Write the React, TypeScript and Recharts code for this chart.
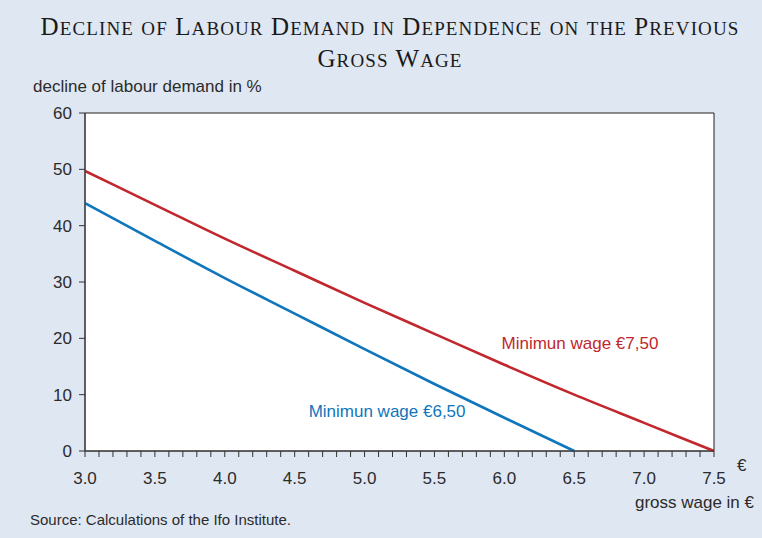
import React from 'react';
import { LineChart, Line, XAxis, YAxis, CartesianGrid, ReferenceArea, ReferenceDot } from 'recharts';

const wage750 = [
  { x: 3.0, y: 49.7 },
  { x: 3.5, y: 43.7 },
  { x: 4.0, y: 37.7 },
  { x: 4.5, y: 32.0 },
  { x: 5.0, y: 26.3 },
  { x: 5.5, y: 20.8 },
  { x: 6.0, y: 15.3 },
  { x: 6.5, y: 10.0 },
  { x: 7.0, y: 5.0 },
  { x: 7.5, y: 0 },
];

const wage650 = [
  { x: 3.0, y: 44.0 },
  { x: 3.5, y: 37.3 },
  { x: 4.0, y: 30.7 },
  { x: 4.5, y: 24.4 },
  { x: 5.0, y: 18.1 },
  { x: 5.5, y: 11.9 },
  { x: 6.0, y: 5.9 },
  { x: 6.5, y: 0 },
];

const xTicks = [
  3.0, 3.1, 3.2, 3.3, 3.4, 3.5, 3.6, 3.7, 3.8, 3.9,
  4.0, 4.1, 4.2, 4.3, 4.4, 4.5, 4.6, 4.7, 4.8, 4.9,
  5.0, 5.1, 5.2, 5.3, 5.4, 5.5, 5.6, 5.7, 5.8, 5.9,
  6.0, 6.1, 6.2, 6.3, 6.4, 6.5, 6.6, 6.7, 6.8, 6.9,
  7.0, 7.1, 7.2, 7.3, 7.4, 7.5,
];
const xLabelTicks = [3.0, 3.5, 4.0, 4.5, 5.0, 5.5, 6.0, 6.5, 7.0, 7.5];
const yTicks = [0, 10, 20, 30, 40, 50, 60];

const titleLines = ['Decline of Labour Demand in Dependence on the Previous', 'Gross Wage'];

const RED = '#c1272d';
const BLUE = '#0f75bc';
const TEXT = '#2b2b2b';
const BG = '#dfe7f2';
const SANS = '"Liberation Sans", Arial, sans-serif';

const fmtX = (v: number) =>
  xLabelTicks.some((t) => Math.abs(t - v) < 1e-6) ? v.toFixed(1) : '';

function SmallCaps({ text }: { text: string }) {
  const parts: React.ReactNode[] = [];
  for (let i = 0; i < text.length; i++) {
    const c = text[i];
    const isUpper = c !== c.toLowerCase();
    if (c === ' ') {
      parts.push(<span key={i}> </span>);
    } else if (isUpper) {
      parts.push(
        <span key={i} style={{ fontSize: 25 }}>
          {c}
        </span>
      );
    } else {
      parts.push(
        <span key={i} style={{ fontSize: 19, textTransform: 'uppercase' }}>
          {c}
        </span>
      );
    }
  }
  return <>{parts}</>;
}

export default function App() {
  return (
    <div
      style={{
        position: 'absolute',
        left: 0,
        top: 0,
        width: 762,
        height: 538,
        background: BG,
        fontFamily: SANS,
        color: TEXT,
        overflow: 'hidden',
      }}
    >
      <div
        style={{
          position: 'absolute',
          left: 0,
          width: 780,
          top: 12,
          textAlign: 'center',
          fontFamily: '"Liberation Serif", "Times New Roman", serif',
          fontSize: 25,
          lineHeight: '30px',
          letterSpacing: 1.1,
          color: '#1a1a1a',
          whiteSpace: 'nowrap',
        }}
      >
        <SmallCaps text={titleLines[0]} />
        <br />
        <SmallCaps text={titleLines[1]} />
      </div>
      <div style={{ position: 'absolute', left: 33, top: 77, fontSize: 17 }}>
        decline of labour demand in %
      </div>
      <div style={{ position: 'absolute', left: 737, top: 456, fontSize: 17 }}>€</div>
      <div style={{ position: 'absolute', right: 8, top: 493, fontSize: 17 }}>
        gross wage in €
      </div>
      <div style={{ position: 'absolute', left: 30, top: 511, fontSize: 15 }}>
        Source: Calculations of the Ifo Institute.
      </div>
      <div style={{ position: 'absolute', left: 0, top: 0 }}>
        <LineChart width={762} height={538} margin={{ top: 113, right: 48, bottom: 57, left: 0 }}>
          <CartesianGrid fill="#ffffff" horizontal={false} vertical={false} />
          <XAxis
            type="number"
            dataKey="x"
            domain={[3, 7.5]}
            ticks={xTicks}
            tickFormatter={fmtX}
            interval={0}
            height={30}
            tickSize={6}
            tickMargin={15}
            stroke="#333"
            tick={{ fill: TEXT, fontSize: 17, fontFamily: SANS }}
            allowDataOverflow
          />
          <YAxis
            type="number"
            domain={[0, 60]}
            ticks={yTicks}
            interval={0}
            width={85}
            tickSize={6}
            tickMargin={7}
            stroke="#333"
            tick={{ fill: TEXT, fontSize: 17, fontFamily: SANS }}
          />
          <ReferenceArea x1={3} x2={7.5} y1={0} y2={60} fill="none" stroke="#222" strokeWidth={1} />
          <Line
            data={wage750}
            dataKey="y"
            type="monotone"
            stroke={RED}
            strokeWidth={2.6}
            dot={false}
            isAnimationActive={false}
          />
          <Line
            data={wage650}
            dataKey="y"
            type="monotone"
            stroke={BLUE}
            strokeWidth={2.6}
            dot={false}
            isAnimationActive={false}
          />
          <ReferenceDot
            x={5.98}
            y={19.2}
            r={0}
            fill="none"
            stroke="none"
            label={{ value: 'Minimun wage €7,50', position: 'right', offset: 0, fill: RED, fontSize: 17, fontFamily: SANS }}
          />
          <ReferenceDot
            x={4.6}
            y={7.1}
            r={0}
            fill="none"
            stroke="none"
            label={{ value: 'Minimun wage €6,50', position: 'right', offset: 0, fill: BLUE, fontSize: 17, fontFamily: SANS }}
          />
        </LineChart>
      </div>
    </div>
  );
}
